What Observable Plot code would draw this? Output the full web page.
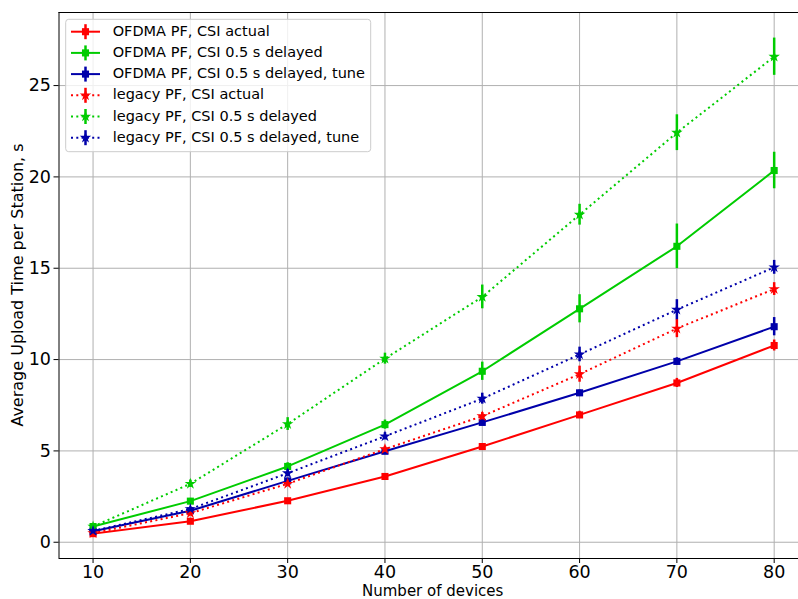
<!DOCTYPE html>
<html>
<head>
<meta charset="utf-8">
<script src="https://cdn.jsdelivr.net/npm/d3@7"></script>
<script src="https://cdn.jsdelivr.net/npm/@observablehq/plot@0.6"></script>
<style>
  html, body { margin: 0; padding: 0; background: white; }
  #chart { width: 798px; height: 599px; overflow: hidden; }
</style>
</head>
<body>
<div id="chart"></div>
<script>
const xs = [10, 20, 30, 40, 50, 60, 70, 80];
const xTicks = [10, 20, 30, 40, 50, 60, 70, 80];
const yTicks = [0, 5, 10, 15, 20, 25];

const seriesNames = [
  "OFDMA PF, CSI actual",
  "OFDMA PF, CSI 0.5 s delayed",
  "OFDMA PF, CSI 0.5 s delayed, tune",
  "legacy PF, CSI actual",
  "legacy PF, CSI 0.5 s delayed",
  "legacy PF, CSI 0.5 s delayed, tune"
];
const seriesColors = ["#ff0000", "#00cc00", "#0000aa", "#ff0000", "#00cc00", "#0000aa"];
const seriesDotted = [false, false, false, true, true, true];

const ofdmaActual      = [0.47, 1.15, 2.27, 3.60, 5.24, 6.97, 8.72, 10.77];
const ofdmaActualErr   = [0.05, 0.10, 0.12, 0.15, 0.15, 0.20, 0.25, 0.30];
const ofdmaDelayed     = [0.86, 2.25, 4.15, 6.44, 9.36, 12.78, 16.20, 20.35];
const ofdmaDelayedErr  = [0.08, 0.15, 0.20, 0.25, 0.50, 0.77, 1.22, 1.00];
const ofdmaTune        = [0.60, 1.72, 3.36, 4.98, 6.56, 8.18, 9.90, 11.80];
const ofdmaTuneErr     = [0.05, 0.10, 0.12, 0.15, 0.15, 0.15, 0.20, 0.50];
const legacyActual     = [0.50, 1.59, 3.20, 5.10, 6.90, 9.20, 11.70, 13.86];
const legacyActualErr  = [0.05, 0.12, 0.15, 0.15, 0.20, 0.44, 0.50, 0.35];
const legacyDelayed    = [0.86, 3.20, 6.47, 10.05, 13.43, 17.93, 22.42, 26.58];
const legacyDelayedErr = [0.08, 0.20, 0.35, 0.30, 0.65, 0.57, 0.98, 1.02];
const legacyTune       = [0.62, 1.82, 3.78, 5.80, 7.86, 10.28, 12.73, 15.05];
const legacyTuneErr    = [0.05, 0.10, 0.20, 0.20, 0.30, 0.40, 0.55, 0.38];

const seriesValues = [ofdmaActual, ofdmaDelayed, ofdmaTune, legacyActual, legacyDelayed, legacyTune];
const seriesErrors = [ofdmaActualErr, ofdmaDelayedErr, ofdmaTuneErr, legacyActualErr, legacyDelayedErr, legacyTuneErr];

const xDomain = [6.5, 82.5];
const yDomain = [-0.89, 29.0];
const FONT = "DejaVu Sans, sans-serif";
const STAR_R = 3.6;
const SQUARE_R = 4;

const marks = [
  Plot.gridX(xTicks, {stroke: "#b0b0b0", strokeOpacity: 1, strokeWidth: 1}),
  Plot.gridY(yTicks, {stroke: "#b0b0b0", strokeOpacity: 1, strokeWidth: 1}),
  Plot.ruleX([xDomain[0]], {stroke: "black", strokeWidth: 1}),
  Plot.ruleY([yDomain[0], yDomain[1]], {stroke: "black", strokeWidth: 1}),
  Plot.axisX(xTicks, {tickSize: 5, tickPadding: 2.5, fontSize: 17.5, label: null, stroke: "black"}),
  Plot.axisY(yTicks, {tickSize: 5, tickPadding: 3, fontSize: 17.5, label: null, stroke: "black"})
];

seriesNames.forEach((name, i) => {
  const rows = xs.map((x, j) => ({x, y: seriesValues[i][j], e: seriesErrors[i][j]}));
  const color = seriesColors[i];
  marks.push(Plot.line(rows, {
    x: "x", y: "y", stroke: color, strokeWidth: 2,
    strokeDasharray: seriesDotted[i] ? "2,3.3" : null,
    strokeLinecap: seriesDotted[i] ? "butt" : "square"
  }));
  marks.push(Plot.ruleX(rows, {x: "x", y1: d => d.y - d.e, y2: d => d.y + d.e, stroke: color, strokeWidth: 2.5}));
  marks.push(Plot.dot(rows, {
    x: "x", y: "y", fill: color, stroke: "none",
    symbol: seriesDotted[i] ? "star" : "square",
    r: seriesDotted[i] ? STAR_R : SQUARE_R
  }));
});

const plot = Plot.plot({
  width: 798,
  height: 599,
  marginLeft: 58.5,
  marginRight: 0,
  marginTop: 12,
  marginBottom: 41,
  style: {fontFamily: FONT, color: "black", background: "white"},
  x: {type: "linear", domain: xDomain},
  y: {type: "linear", domain: yDomain},
  marks
});

document.getElementById("chart").appendChild(plot);

const svg = d3.select(plot);

// axis titles
svg.append("text")
  .attr("x", 432.7).attr("y", 596)
  .attr("text-anchor", "middle")
  .attr("font-family", FONT).attr("font-size", 15).attr("fill", "black")
  .text("Number of devices");
svg.append("text")
  .attr("transform", "translate(18,285) rotate(-90)")
  .attr("text-anchor", "middle").attr("dominant-baseline", "middle")
  .attr("font-family", FONT).attr("font-size", 16).attr("fill", "black")
  .text("Average Upload Time per Station, s");

// legend
const lg = svg.append("g");
lg.append("rect")
  .attr("x", 65.7).attr("y", 19.3).attr("width", 305).attr("height", 132.4)
  .attr("rx", 3).attr("fill", "white").attr("fill-opacity", 0.8)
  .attr("stroke", "#cccccc").attr("stroke-width", 1);
const rowY = [31.7, 52.9, 74.1, 95.3, 116.5, 137.7];
seriesNames.forEach((name, i) => {
  const y = rowY[i];
  const color = seriesColors[i];
  lg.append("line")
    .attr("x1", 71).attr("x2", 100).attr("y1", y).attr("y2", y)
    .attr("stroke", color).attr("stroke-width", 2)
    .attr("stroke-dasharray", seriesDotted[i] ? "2,3.3" : null);
  lg.append("line")
    .attr("x1", 85.5).attr("x2", 85.5).attr("y1", y - 7.5).attr("y2", y + 7.5)
    .attr("stroke", color).attr("stroke-width", 2.5);
  lg.append("path")
    .attr("transform", `translate(85.5,${y})`)
    .attr("d", d3.symbol(seriesDotted[i] ? d3.symbolStar : d3.symbolSquare,
      seriesDotted[i] ? Math.PI * STAR_R * STAR_R : Math.PI * SQUARE_R * SQUARE_R)())
    .attr("fill", color);
  lg.append("text")
    .attr("x", 112.7).attr("y", y)
    .attr("text-anchor", "start")
    .attr("dominant-baseline", "middle")
    .attr("font-family", FONT).attr("font-size", 14.5).attr("fill", "black")
    .text(name);
});
</script>
</body>
</html>
